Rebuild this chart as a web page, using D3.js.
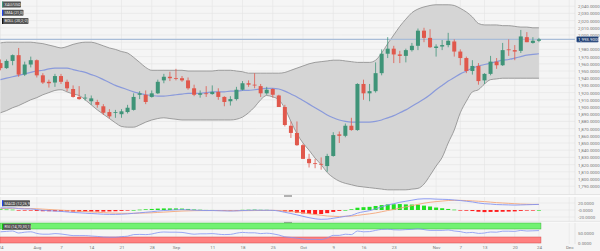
<!DOCTYPE html>
<html>
<head>
<meta charset="utf-8">
<script src="https://cdn.jsdelivr.net/npm/d3@7"></script>
<style>
html, body { margin: 0; padding: 0; background: #f5f5f5; }
svg { display: block; font-family: Roboto, 'Liberation Sans', sans-serif; }
</style>
</head>
<body>
<div id="viz"></div>
<script>
// daily XAU/USD candles, one per trading day (index 0 = Jul 24)
const opens = [1961,1954,1964,1972,1945,1959,1965,1944,1935,1934,1943,1935,1925,1914,1912,1908,1907,1901,1893,1892,
  1890,1893,1896,1917,1917,1914,1919,1937,1942,1940,1940,1937,1926,1917,1919,1918,1921,1914,1908,1911,
  1924,1933,1931,1929,1919,1925,1916,1900,1874,1864,1847,1828,1822,1821,1818,1832,1862,1860,1874,1868,
  1932,1919,1922,1947,1974,1981,1973,1971,1979,1985,2006,1996,1982,1984,1986,1991,1977,1968,1950,1957,
  1937,1946,1963,1958,1980,1979,1978,1997,1989,1992];
const highs = [1966,1966,1973,1982,1963,1970,1966,1947,1938,1946,1946,1938,1930,1929,1918,1916,1910,1904,1897,1896,
  1897,1903,1919,1922,1923,1923,1938,1946,1949,1953,1943,1941,1931,1923,1929,1930,1926,1915,1915,1928,
  1936,1937,1947,1932,1928,1926,1917,1903,1880,1880,1849,1835,1828,1830,1835,1865,1866,1877,1885,1933,
  1938,1932,1962,1980,1997,1985,1978,1981,1989,2009,2010,2008,1987,1993,2003,1994,1980,1970,1965,1961,
  1947,1971,1968,1989,1994,1986,2007,2004,1997,1996];
const lows = [1951,1953,1958,1942,1943,1955,1941,1932,1927,1928,1932,1922,1913,1910,1909,1903,1899,1889,1884,1885,
  1885,1891,1895,1911,1904,1913,1918,1933,1936,1937,1935,1924,1915,1913,1914,1917,1910,1901,1902,1909,
  1923,1928,1926,1914,1917,1913,1900,1873,1857,1846,1828,1816,1815,1813,1810,1831,1850,1858,1867,1867,
  1910,1908,1920,1944,1968,1961,1961,1962,1977,1979,1990,1982,1970,1979,1983,1970,1958,1947,1945,1931,
  1932,1944,1953,1957,1971,1965,1975,1990,1988,1990];
const closes = [1954,1964,1972,1945,1959,1965,1944,1934,1933,1943,1935,1926,1914,1911,1913,1912,1903,1892,1887,1893,
  1894,1899,1914,1919,1907,1919,1935,1942,1940,1939,1937,1926,1917,1919,1918,1921,1914,1907,1911,1924,
  1933,1931,1930,1919,1924,1917,1900,1875,1864,1847,1828,1822,1821,1820,1832,1861,1860,1874,1868,1932,
  1919,1922,1947,1974,1981,1973,1971,1979,1985,2006,1996,1983,1984,1986,1992,1977,1968,1950,1957,1936,
  1946,1963,1958,1979,1979,1977,1998,1990,1992,1993.9];

// indicators
const smaValues = [1938,1940,1942,1944,1946,1948,1950,1951,1953,1954,1954,1954,1952,1950,1948,1945,1942,1938,1934,1930,
  1927,1924,1921,1919,1917,1916,1915,1915,1916,1917,1918,1919,1919,1919,1920,1921,1921,1921,1922,1922,
  1923,1923,1924,1925,1926,1926,1925,1922,1918,1914,1909,1904,1899,1894,1889,1885,1882,1880,1879,1879,
  1879,1879,1880,1882,1885,1888,1892,1896,1901,1906,1911,1917,1924,1930,1936,1941,1946,1950,1954,1957,
  1959,1961,1963,1965,1966,1968,1970,1972,1973,1974];
const bollUpper = [1989,1990,1990,1990,1990,1990,1989,1988,1986,1984,1982,1984,1987,1989,1990,1990,1988,1985,1982,1980,
  1977,1975,1969,1962,1955,1951,1951,1951,1951,1951,1951,1950,1950,1950,1950,1950,1951,1951,1951,1950,
  1949,1947,1947,1947,1947,1947,1947,1948,1951,1954,1957,1960,1962,1963,1964,1965,1965,1964,1963,1962,
  1962,1962,1965,1975,1988,2000,2012,2022,2031,2036,2039,2041,2042,2042,2042,2041,2037,2032,2025,2016,
  2014,2014,2014,2013,2013,2012,2011,2011,2010,2010];
const bollLower = [1892,1895,1899,1902,1906,1910,1913,1917,1920,1923,1924,1921,1918,1916,1910,1903,1896,1890,1884,1878,
  1873,1872,1872,1875,1879,1882,1884,1885,1884,1883,1882,1882,1882,1882,1882,1882,1882,1882,1882,1883,
  1886,1892,1900,1910,1916,1914,1910,1898,1880,1863,1850,1840,1829,1820,1809,1802,1797,1794,1792,1790,
  1789,1788,1787,1786,1785,1785,1785,1785,1786,1787,1793,1805,1818,1830,1850,1868,1892,1908,1921,1924,
  1932,1938,1939,1940,1940,1940,1940,1940,1940,1940];
const macdLine = [6,6,6,4,3,3,1,-1,-2,-3,-4,-5.5,-7,-8,-9,-10,-11,-12,-12.5,-12.5,
  -12,-11,-9.5,-8,-6.5,-5,-3,-1.5,-0.5,0.5,1,0.5,-0.5,-1,-1.5,-1.5,-2,-2.5,-3,-2.5,
  -1.5,-1,-0.5,-0.8,-0.8,-1,-3,-6.5,-10,-14,-18,-22,-25,-26.5,-26,-23.5,-21,-18,-15.5,-9,
  -5,-2,3,9,14.5,18,22,25,28,31,32,32,31,30.5,30,28.5,27,25,23,20,
  18,17,15.5,15,14.5,14,14.5,15,15.5,16];
const macdSignal = [4,4.5,5,5,4.5,4,3.5,2.5,1.5,0.5,-0.5,-1.5,-2.5,-3.5,-4.5,-5.5,-6.5,-7.5,-8.5,-9,
  -9.5,-9.5,-9.5,-9,-8.5,-8,-7,-6,-5,-4,-3,-2.5,-2,-1.8,-1.7,-1.6,-1.7,-1.8,-2,-2.1,
  -2,-1.8,-1.6,-1.4,-1.3,-1,-1.5,-2.5,-4,-6,-8,-10.5,-13,-15,-17,-18,-18.5,-18,-17.5,-15.5,
  -13,-11,-8.5,-5,-1.5,1.5,5,9,12.5,16,19.5,22,24,25.5,27,27.5,27.5,27,26,25,
  24,22.5,21,20,19,18,17,16.5,16,16];
const macdHist = [2,1.5,1,-1,-1.5,-1,-2.5,-3.5,-3.5,-3.5,-3.5,-4,-4.5,-4.5,-4.5,-4.5,-4.5,-4.5,-4,-3.5,
  -2.5,-1.5,0,1,2,3,4,4.5,4.5,4.5,4,3,1.5,0.8,0.2,0.1,-0.3,-0.7,-1,-0.4,
  0.5,0.8,1.1,0.6,0.5,0,-1.5,-4,-6,-8,-10,-11.5,-12,-11.5,-9,-5.5,-2.5,0,2,6.5,
  8,9,11.5,14,16,16.5,17,16,15.5,15,12.5,10,7,5,3,1,-0.5,-2,-3,-5,
  -6,-5.5,-5.5,-5,-4.5,-4,-2.5,-1.5,-0.5,0];
const rsiValues = [56,58,60,50,54,56,48,44,44,47,45,41,37,37,37,35,33,30,29,29,
  32,34,42,43,42,45,52,55,54,54,53,48,44,46,46,47,44,42,43,49,
  53,51,51,47,49,46,40,31,28,24,20,18,18,17,25,38,38,44,42,60,
  56,57,63,68,69,66,65,67,68,71,67,63,63,63,65,60,57,51,53,48,
  50,55,54,59,59,58,63,60,61,62];

const lastPrice = 1993.9;
const priceTicks = d3.range(1790, 2041, 10);
const macdTicks = [20, 0, -20];
const macdTickLabels = ['20.0000', '-0.0000', '-20.0000'];
const rsiTicks = [50, 0];
const xTickIndex = [0, 6, 10, 15, 20, 25, 29, 35, 40, 45, 50, 55, 60, 65, 72, 76, 80, 85, 89, 94];
const xTickLabels = ['24', 'Aug', '7', '14', '21', '28', 'Sep', '11', '18', '25', 'Oct', '9', '16', '23', 'Nov', '7', '13', '20', '24', 'Dec'];

const width = 600;
const height = 251;
const plotRight = 575;
const upColor = '#3f9478';
const downColor = '#e0584c';

const svg = d3.select('#viz')
      .append('svg')
      .attr('width', width)
      .attr('height', height);

svg.append('rect')
    .attr('width', width)
    .attr('height', height)
    .attr('fill', '#f5f5f5');

const x = d3.scaleLinear().domain([0, 95]).range([0.5, 575.25]);
const yPrice = d3.scaleLinear().domain([1779.2, 2048.6]).range([194, 0]);
const yMacd = d3.scaleLinear().domain([-31.4, 37.1]).range([221, 197]);
const yRsi = d3.scaleLinear().domain([0, 100]).range([243, 223]);

// grid
const grid = svg.append('g').attr('stroke', '#e4e4e4').attr('stroke-width', 0.6);
grid.selectAll('line.h').data(priceTicks).join('line')
    .attr('x1', 0).attr('x2', plotRight)
    .attr('y1', d => yPrice(d)).attr('y2', d => yPrice(d));
grid.selectAll('line.m').data(macdTicks).join('line')
    .attr('x1', 0).attr('x2', plotRight)
    .attr('y1', d => yMacd(d)).attr('y2', d => yMacd(d));
grid.selectAll('line.v').data(xTickIndex).join('line')
    .attr('x1', d => x(d)).attr('x2', d => x(d))
    .attr('y1', 0).attr('y2', 244);
grid.append('line')
    .attr('x1', plotRight).attr('x2', plotRight)
    .attr('y1', 0).attr('y2', 244)
    .attr('stroke', '#dadada');

// panel separators
[[194.5, 197], [221.3, 222.8]].forEach(([a, b]) => {
  svg.append('rect').attr('x', 0).attr('y', a).attr('width', width).attr('height', b - a).attr('fill', '#fbfbfb');
  svg.append('line').attr('x1', 0).attr('x2', width).attr('y1', a).attr('y2', a).attr('stroke', '#d6d6d6').attr('stroke-width', 0.6);
  svg.append('rect').attr('x', 284).attr('y', a + 0.6).attr('width', 8).attr('height', 1.8).attr('fill', '#a9a9a9');
});

// main panel
const main = svg.append('g');
main.append('clipPath').attr('id', 'clipMain')
    .append('rect').attr('width', plotRight).attr('height', 194);
const mainPlot = main.append('g').attr('clip-path', 'url(#clipMain)');

const idx = d3.range(opens.length);

const band = d3.area()
      .x(i => x(i))
      .y0(i => yPrice(bollLower[i]))
      .y1(i => yPrice(bollUpper[i]))
      .curve(d3.curveMonotoneX);
mainPlot.append('path')
    .datum(idx)
    .attr('d', band)
    .attr('fill', '#d5d5d5');

const edge = arr => d3.line().x(i => x(i)).y(i => yPrice(arr[i])).curve(d3.curveMonotoneX);
[bollUpper, bollLower].forEach(arr => {
  mainPlot.append('path')
      .datum(idx)
      .attr('d', edge(arr))
      .attr('fill', 'none')
      .attr('stroke', '#8a8a8a')
      .attr('stroke-width', 0.8);
});

mainPlot.append('path')
    .datum(idx)
    .attr('d', edge(smaValues))
    .attr('fill', 'none')
    .attr('stroke', '#7d8fdc')
    .attr('stroke-opacity', 0.85)
    .attr('stroke-width', 1.2);

// current price line
mainPlot.append('line')
    .attr('x1', 0).attr('x2', plotRight)
    .attr('y1', yPrice(lastPrice)).attr('y2', yPrice(lastPrice))
    .attr('stroke', '#a9bdd8')
    .attr('stroke-width', 1.4);

const candleColor = i => closes[i] >= opens[i] ? upColor : downColor;
const candles = mainPlot.selectAll('g.candle').data(idx).join('g').attr('class', 'candle');
candles.append('line')
    .attr('x1', i => x(i)).attr('x2', i => x(i))
    .attr('y1', i => yPrice(highs[i])).attr('y2', i => yPrice(lows[i]))
    .attr('stroke', candleColor)
    .attr('stroke-width', 0.8);
candles.append('rect')
    .attr('x', i => x(i) - 2)
    .attr('width', 4)
    .attr('y', i => yPrice(Math.max(opens[i], closes[i])))
    .attr('height', i => Math.max(0.8, Math.abs(yPrice(opens[i]) - yPrice(closes[i]))))
    .attr('fill', candleColor);

// price axis (the tick hidden behind the last-price tag is left out)
const visibleTicks = priceTicks.filter(d => Math.abs(yPrice(d) - yPrice(lastPrice)) > 4);
const priceAxis = svg.append('g')
      .attr('transform', `translate(${plotRight + 3} 0)`)
      .call(d3.axisRight(yPrice).tickValues(visibleTicks).tickFormat(d3.format(',.4f')).tickSize(0).tickPadding(0));
priceAxis.select('.domain').remove();
priceAxis.selectAll('text').attr('font-size', 4.4).attr('fill', '#777').attr('font-family', 'Roboto, sans-serif');

// last price tag
const tag = svg.append('g').attr('transform', `translate(${plotRight + 1.5} ${yPrice(lastPrice)})`);
tag.append('rect')
    .attr('x', 0).attr('y', -2.8).attr('width', 22).attr('height', 5.6)
    .attr('rx', 1)
    .attr('fill', '#1f3d70')
    .attr('stroke', '#9fb3d4')
    .attr('stroke-width', 0.5);
tag.append('text')
    .attr('x', 1.6).attr('y', 1.6)
    .attr('font-size', 4.4)
    .attr('fill', '#fff')
    .text(d3.format(',.4f')(lastPrice));

// MACD panel
const macdG = svg.append('g');
macdG.selectAll('rect.hist').data(idx).join('rect')
    .attr('x', i => x(i) - 2)
    .attr('width', 4)
    .attr('y', i => Math.min(yMacd(0), yMacd(macdHist[i])))
    .attr('height', i => Math.max(0.6, Math.abs(yMacd(macdHist[i]) - yMacd(0))))
    .attr('fill', i => macdHist[i] >= 0 ? '#22e022' : '#ff1f1f');
const macdPath = arr => d3.line().x(i => x(i)).y(i => yMacd(arr[i])).curve(d3.curveMonotoneX);
macdG.append('path').datum(idx).attr('d', macdPath(macdSignal))
    .attr('fill', 'none').attr('stroke', '#f4a77a').attr('stroke-width', 0.9);
macdG.append('path').datum(idx).attr('d', macdPath(macdLine))
    .attr('fill', 'none').attr('stroke', '#8494f2').attr('stroke-width', 0.9);

const macdAxis = svg.append('g')
      .attr('transform', `translate(${plotRight + 3} 0)`)
      .call(d3.axisRight(yMacd).tickValues(macdTicks).tickFormat((d, i) => macdTickLabels[i]).tickSize(0).tickPadding(0));
macdAxis.select('.domain').remove();
macdAxis.selectAll('text').attr('font-size', 4.4).attr('fill', '#777').attr('font-family', 'Roboto, sans-serif');

// RSI panel
const rsiG = svg.append('g');
const lastX = x(opens.length - 1) + 2;
rsiG.append('rect')
    .attr('x', 0).attr('y', yRsi(100)).attr('width', lastX).attr('height', yRsi(70) - yRsi(100))
    .attr('fill', '#72f272').attr('stroke', '#3cb43c').attr('stroke-width', 0.5);
rsiG.append('rect')
    .attr('x', 0).attr('y', yRsi(30)).attr('width', lastX).attr('height', yRsi(0) - yRsi(30))
    .attr('fill', '#ff8080').attr('stroke', '#d24a4a').attr('stroke-width', 0.5);
rsiG.append('path').datum(idx)
    .attr('d', d3.line().x(i => x(i)).y(i => yRsi(rsiValues[i])).curve(d3.curveMonotoneX))
    .attr('fill', 'none').attr('stroke', '#8494f2').attr('stroke-width', 0.8);

const rsiAxis = svg.append('g')
      .attr('transform', `translate(${plotRight + 3} 0)`)
      .call(d3.axisRight(yRsi).tickValues(rsiTicks).tickFormat(d3.format('.4f')).tickSize(0).tickPadding(0));
rsiAxis.select('.domain').remove();
rsiAxis.selectAll('text').attr('font-size', 4.4).attr('fill', '#777').attr('font-family', 'Roboto, sans-serif');

// time axis
const timeAxis = svg.append('g')
      .attr('transform', 'translate(0 244.5)')
      .call(d3.axisBottom(x).tickValues(xTickIndex).tickFormat((d, i) => xTickLabels[i]).tickSize(0).tickPadding(1.5));
timeAxis.select('.domain').remove();
timeAxis.selectAll('text').attr('font-size', 4.4).attr('fill', '#777').attr('font-family', 'Roboto, sans-serif');

// legend tags
function legendTag(y, label, mark, w) {
  const g = svg.append('g').attr('transform', `translate(2 ${y})`);
  g.append('rect').attr('width', w).attr('height', 6).attr('rx', 0.8).attr('fill', '#555');
  g.append('rect').attr('width', 1.2).attr('height', 6).attr('fill', mark);
  g.append('text').attr('x', 2.6).attr('y', 4.3).attr('font-size', 3.8).attr('fill', '#f2f2f2').text(label);
}
legendTag(1.5, 'XAU/USD', '#3f9478', 19);
legendTag(9.8, 'SMA (21,0)', '#2244ee', 21.5);
legendTag(18, 'BOLL (20,2,-2)', '#111', 26.5);
legendTag(200.3, 'MACD (12,26,9)', '#2244ee', 28);
legendTag(223.8, 'RSI (14,70,30,1)', '#15c015', 29);
</script>
</body>
</html>
